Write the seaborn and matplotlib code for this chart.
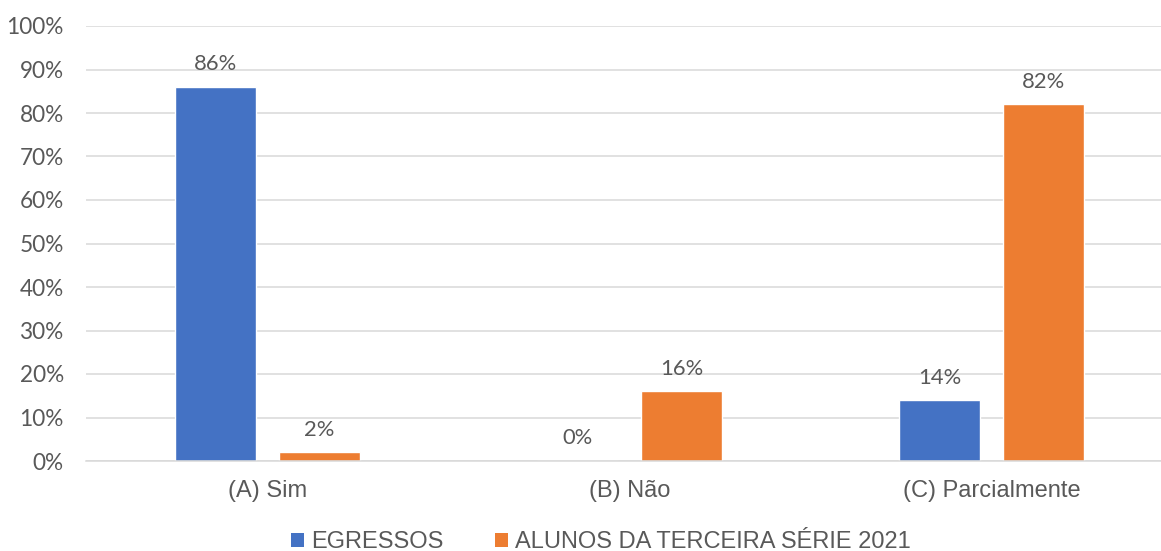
import numpy as np
import matplotlib
matplotlib.use("Agg")
import matplotlib.pyplot as plt
import seaborn as sns
import pandas as pd
from matplotlib.patches import Patch
from matplotlib.ticker import PercentFormatter

# === DATA
categorias = ["(A) Sim", "(B) Não", "(C) Parcialmente"]
series = ["EGRESSOS", "ALUNOS DA TERCEIRA SÉRIE 2021"]
egressos = [0.86, 0.00, 0.14]
alunos = [0.02, 0.16, 0.82]

cores = ["#4472C4", "#ED7D31"]
CINZA = "#595959"

df = pd.DataFrame({
    "Resposta": categorias * 2,
    "Valor": egressos + alunos,
    "Grupo": [series[0]] * 3 + [series[1]] * 3,
})

# === FIGURE
sns.set_theme(style="white")
plt.rcParams["font.family"] = ["Liberation Sans", "DejaVu Sans"]

W, H = 1161, 551
fig = plt.figure(figsize=(W / 100, H / 100), dpi=100)
ax = fig.add_axes([86 / W, (H - 461) / H, (W - 86) / W, 435 / H])

sns.barplot(data=df, x="Resposta", y="Valor", hue="Grupo", palette=cores,
            width=0.574, gap=0.221, saturation=1, ax=ax, legend=False)

ax.set_ylim(0, 1)
ax.set_xlim(-0.5, -0.5 + (W - 86) / 362.3)
ax.set_yticks(np.arange(0, 1.01, 0.1))
ax.yaxis.set_major_formatter(PercentFormatter(1.0, decimals=0))
ax.grid(axis="y", color="#D9D9D9", linewidth=1.1)
ax.set_axisbelow(True)
for s in ["top", "right", "left"]:
    ax.spines[s].set_visible(False)
ax.spines["bottom"].set_color("#D9D9D9")
ax.spines["bottom"].set_linewidth(1.1)
ax.set_xlabel("")
ax.set_ylabel("")
ax.tick_params(axis="both", length=0)
ax.tick_params(axis="x", pad=14, labelsize=17, labelcolor=CINZA)
ax.tick_params(axis="y", pad=16, labelcolor=CINZA)
for lab in ax.get_yticklabels():
    lab.set_family(["Lato", "DejaVu Sans"])
    lab.set_fontsize(16.3)

# rótulos de dados
for cont, vals in zip(ax.containers, [egressos, alunos]):
    ax.bar_label(cont, labels=[f"{v:.0%}" for v in vals], padding=9,
                 fontsize=15.8, color=CINZA, family=["Lato", "DejaVu Sans"])

# legenda
handles = [Patch(facecolor=c, edgecolor="none") for c in cores]
fig.legend(handles, series, loc="center", bbox_to_anchor=(601 / W, 1 - 542 / H),
           ncol=2, frameon=False, fontsize=17.0, labelcolor=CINZA,
           handlelength=0.55, handleheight=0.55, handletextpad=0.3,
           columnspacing=2.2, borderpad=0)

fig.savefig("out.png", dpi=100)
